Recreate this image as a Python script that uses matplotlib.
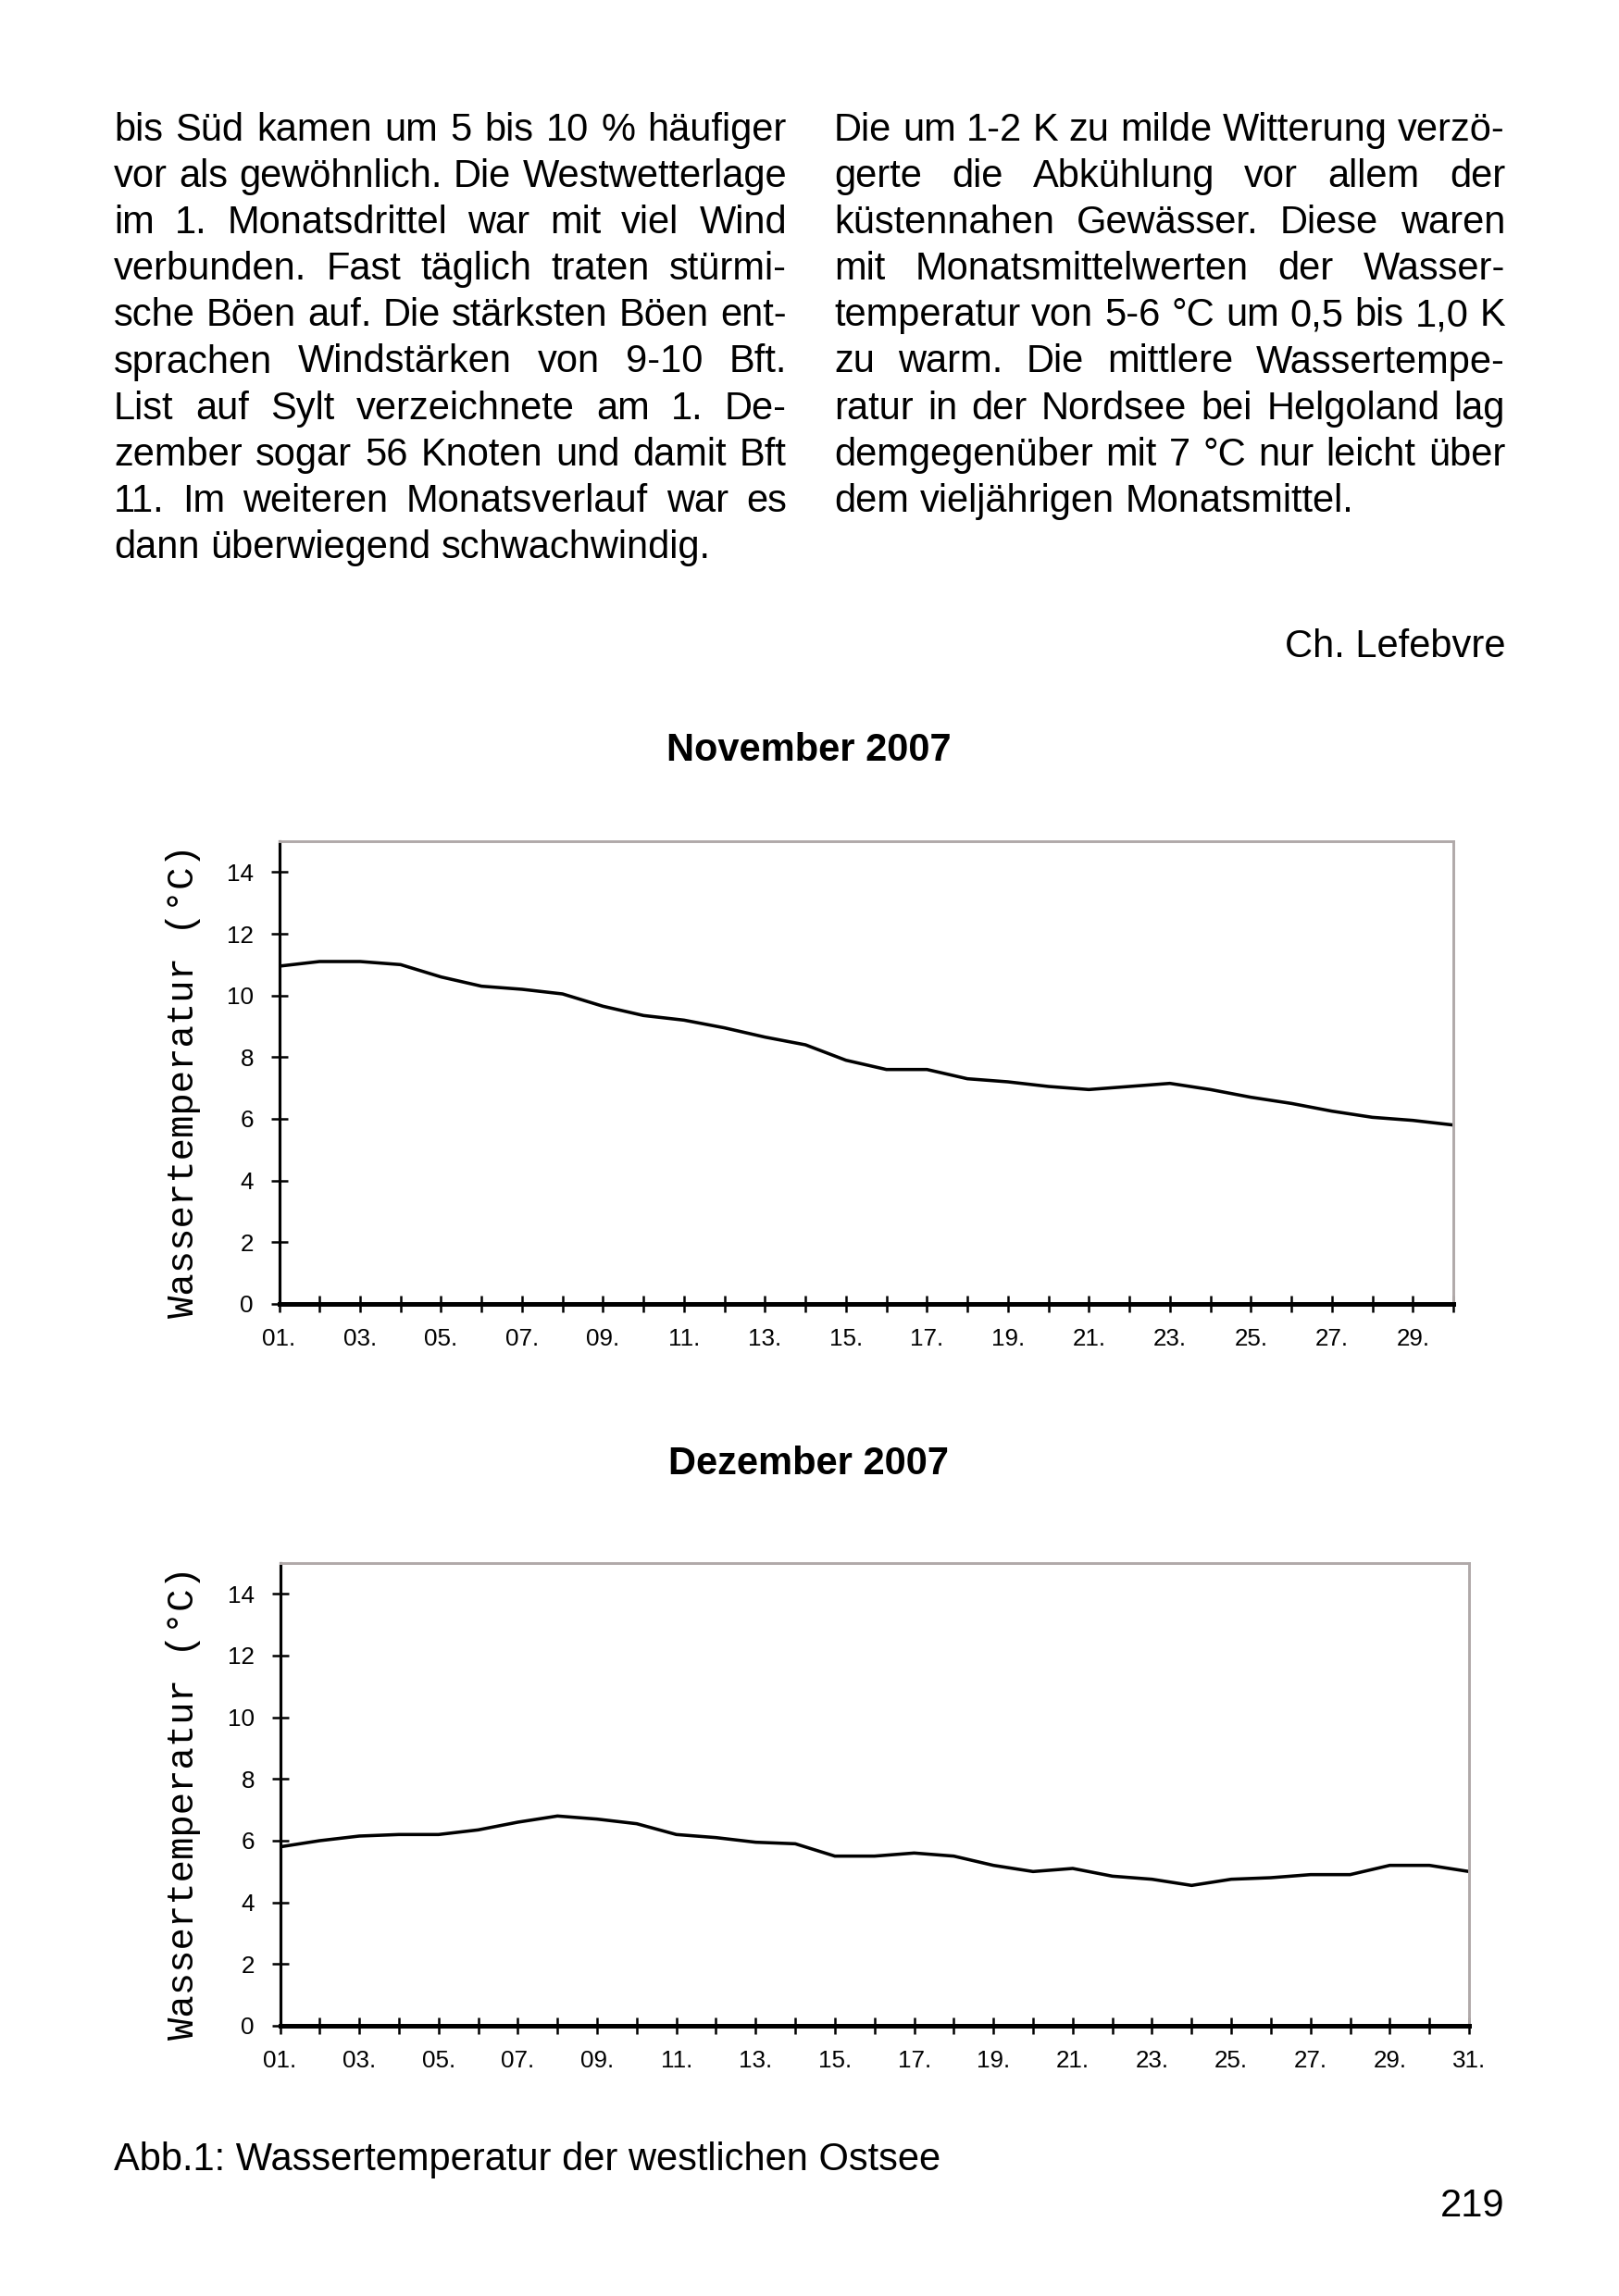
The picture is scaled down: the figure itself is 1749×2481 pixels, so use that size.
import matplotlib.pyplot as plt

# ---- data ----
nov_days = list(range(1, 31))
nov_temp = [10.95, 11.1, 11.1, 11.0, 10.6, 10.3, 10.2, 10.05, 9.65, 9.35,
            9.2, 8.95, 8.65, 8.4, 7.9, 7.6, 7.6, 7.3, 7.2, 7.05,
            6.95, 7.05, 7.15, 6.95, 6.7, 6.5, 6.25, 6.05, 5.95, 5.8]
dec_days = list(range(1, 32))
dec_temp = [5.8, 6.0, 6.15, 6.2, 6.2, 6.35, 6.6, 6.8, 6.7, 6.55,
            6.2, 6.1, 5.95, 5.9, 5.5, 5.5, 5.6, 5.5, 5.2, 5.0,
            5.1, 4.85, 4.75, 4.55, 4.75, 4.8, 4.9, 4.9, 5.2, 5.2, 5.0]
y_ticks = [0, 2, 4, 6, 8, 10, 12, 14]

left_col = [
    "bis Süd kamen um 5 bis 10 % häufiger",
    "vor als gewöhnlich. Die Westwetterlage",
    "im 1. Monatsdrittel war mit viel Wind",
    "verbunden. Fast täglich traten stürmi-",
    "sche Böen auf. Die stärksten Böen ent-",
    "sprachen Windstärken von 9-10 Bft.",
    "List auf Sylt verzeichnete am 1. De-",
    "zember sogar 56 Knoten und damit Bft",
    "11. Im weiteren Monatsverlauf war es",
    "dann überwiegend schwachwindig.",
]
right_col = [
    "Die um 1-2 K zu milde Witterung verzö-",
    "gerte die Abkühlung vor allem der",
    "küstennahen Gewässer. Diese waren",
    "mit Monatsmittelwerten der Wasser-",
    "temperatur von 5-6 °C um 0,5 bis 1,0 K",
    "zu warm. Die mittlere Wassertempe-",
    "ratur in der Nordsee bei Helgoland lag",
    "demgegenüber mit 7 °C nur leicht über",
    "dem vieljährigen Monatsmittel.",
]

W, H, DPI = 1749, 2481, 150
TEXT_FONT = ['Liberation Sans', 'DejaVu Sans']
TICK_FONT = ['Liberation Sans', 'DejaVu Sans']
FS = 20

fig = plt.figure(figsize=(W / DPI, H / DPI), dpi=DPI)
fig.patch.set_facecolor('white')

# page overlay in pixel coordinates (y downwards)
page = fig.add_axes([0, 0, 1, 1])
page.set_xlim(0, W)
page.set_ylim(H, 0)
page.axis('off')
renderer = fig.canvas.get_renderer()


def justify(lines, x0, x1, y0, dy):
    """Place each line word by word, spread to the column width (block text)"""
    for i, line in enumerate(lines):
        y = y0 + i * dy
        words = line.split(' ')
        texts = [page.text(0, y, w, fontsize=FS, family=TEXT_FONT,
                           ha='left', va='baseline') for w in words]
        widths = [t.get_window_extent(renderer).width for t in texts]
        space = 0.278 * FS * DPI / 72
        if i == len(lines) - 1 or len(words) == 1:
            gap = space
        else:
            gap = (x1 - x0 - sum(widths)) / (len(words) - 1)
        x = x0
        for t, w in zip(texts, widths):
            t.set_x(x)
            x += w + gap


justify(left_col, 123, 850, 152, 50.1)
justify(right_col, 901, 1626, 152, 50.1)

page.text(1626, 710, 'Ch. Lefebvre', fontsize=FS, family=TEXT_FONT, ha='right', va='baseline')
page.text(874, 822, 'November 2007', fontsize=FS, family=TEXT_FONT, fontweight='bold',
          ha='center', va='baseline')
page.text(874, 1593, 'Dezember 2007', fontsize=FS, family=TEXT_FONT, fontweight='bold',
          ha='center', va='baseline')
page.text(123, 2345, 'Abb.1: Wassertemperatur der westlichen Ostsee', fontsize=FS,
          family=TEXT_FONT, ha='left', va='baseline')
page.text(1626, 2395, '219', fontsize=FS, family=TEXT_FONT, ha='right', va='baseline')


def temp_chart(px_left, px_right, px_top, px_bottom, days, temps):
    ax = fig.add_axes([px_left / W, 1 - px_bottom / H,
                       (px_right - px_left) / W, (px_bottom - px_top) / H])
    ax.plot(days, temps, color='black', lw=1.7, solid_joinstyle='miter')
    ax.set_xlim(days[0], days[-1])
    ax.set_ylim(0, 15)

    ax.set_yticks(y_ticks)
    ax.set_yticklabels([str(v) for v in y_ticks], family=TICK_FONT, fontsize=12.5)
    ax.set_xticks(days)
    ax.set_xticklabels([f'{d:02d}.' if d % 2 == 1 else '' for d in days],
                       family=TICK_FONT, fontsize=12.5)
    ax.tick_params(axis='y', direction='inout', length=8.5, width=1.2, pad=9)
    ax.tick_params(axis='x', direction='inout', length=8.5, width=1.2, pad=8)

    ax.spines['left'].set_linewidth(1.5)
    ax.spines['bottom'].set_linewidth(2.4)
    for side in ('top', 'right'):
        ax.spines[side].set_color('#b0a9a9')
        ax.spines[side].set_linewidth(1.4)

    ax.text(-0.0815, 0.481, 'Wassertemperatur (°C)', transform=ax.transAxes,
            rotation=90, ha='center', va='center', fontsize=19.5,
            family=['Liberation Mono', 'DejaVu Sans Mono'])
    return ax


temp_chart(301.5, 1570, 909, 1409, nov_days, nov_temp)
temp_chart(302.5, 1587, 1689, 2189, dec_days, dec_temp)

fig.savefig('out.png', dpi=DPI, facecolor='white')
